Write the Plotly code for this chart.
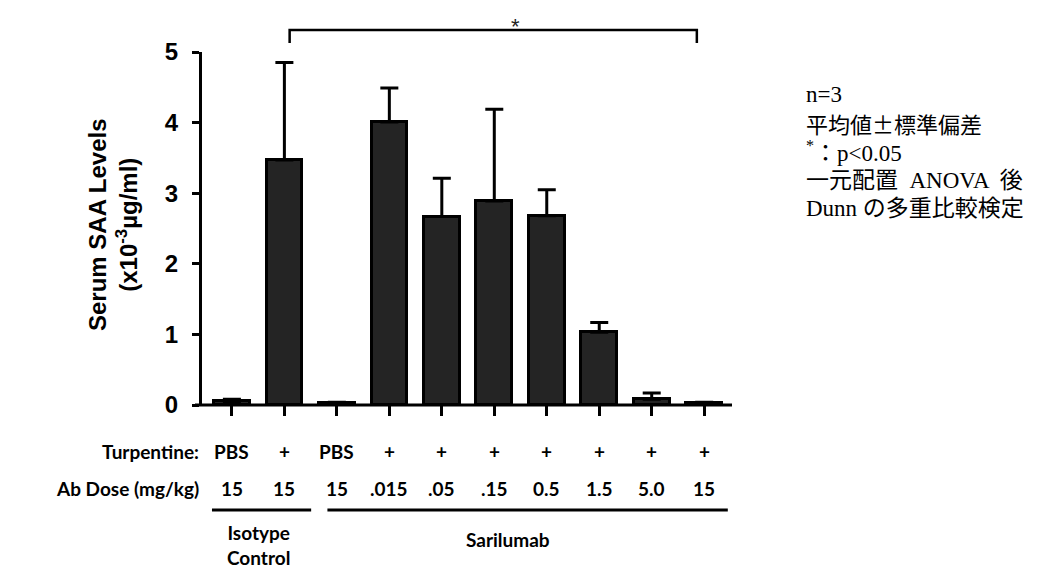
import plotly.graph_objects as go

# ---------------- data ----------------
turpentine = ["PBS", "+", "PBS", "+", "+", "+", "+", "+", "+", "+"]
ab_dose = ["15", "15", "15", ".015", ".05", ".15", "0.5", "1.5", "5.0", "15"]
saa_mean = [0.05, 3.47, 0.03, 4.01, 2.67, 2.89, 2.68, 1.03, 0.08, 0.03]
saa_sd = [0.03, 1.38, 0.01, 0.48, 0.54, 1.30, 0.37, 0.14, 0.09, 0.01]
y_ticks = [0, 1, 2, 3, 4, 5]
group_labels = ["Isotype<br>Control", "Sarilumab"]
group_members = [[0, 1], [2, 3, 4, 5, 6, 7, 8, 9]]
row_titles = ["Turpentine:", "Ab Dose (mg/kg)"]
notes = ["n=3", "平均値±標準偏差", "<sup>*</sup>：p&lt;0.05",
         "一元配置  ANOVA  後", "Dunn の多重比較検定"]
sig_pair = [1, 9]
sig_label = "*"

# ---------------- layout geometry ----------------
OFF = 8                      # default page (body) margin of the html page
W, H = 1039, 575
PLOT_LEFT, PLOT_TOP = 202, 52  # on-screen position of the plot area
PW, PH = 530, 353
L, T = PLOT_LEFT - OFF, PLOT_TOP - OFF
R, B = W - L - PW, H - T - PH
X_MIN, X_MAX = -0.57, 9.53

def px_x(sx):
    return (sx - PLOT_LEFT) / PW

def px_y(sy):
    return (PLOT_TOP + PH - sy) / PH

def data_x(i):
    return (i - X_MIN) / (X_MAX - X_MIN)

UNIT = 1.0 / (X_MAX - X_MIN)
xpos = list(range(len(saa_mean)))

fig = go.Figure()
fig.add_trace(go.Bar(
    x=xpos, y=saa_mean, width=0.68,
    marker=dict(color="#242424", line=dict(color="black", width=3)),
    error_y=dict(type="data", array=saa_sd, arrayminus=[0] * len(saa_sd),
                 symmetric=False, color="black", thickness=3, width=9),
    showlegend=False,
))

bold_sans = dict(family="Liberation Sans, Arial", size=24, color="black", weight=700)
label_font = dict(family="Lato, Carlito, Calibri, sans-serif", size=19, color="black", weight=700)
note_font = dict(family="Liberation Serif, Noto Sans CJK JP", size=23, color="black")
note_font_cjk = dict(family="Noto Sans CJK JP", size=22, color="black")

fig.update_layout(
    width=W, height=H,
    margin=dict(l=L, r=R, t=T, b=B, pad=0),
    plot_bgcolor="white", paper_bgcolor="white",
    bargap=0,
    xaxis=dict(range=[X_MIN, X_MAX], tickvals=xpos, showticklabels=False,
               ticks="outside", ticklen=10, tickwidth=3, tickcolor="black",
               showline=False, showgrid=False, zeroline=False, fixedrange=True),
    yaxis=dict(range=[0, 5], tickvals=y_ticks, ticks="outside", ticklen=7,
               tickwidth=3, tickcolor="black", showline=True, linewidth=3,
               linecolor="black", showgrid=False, zeroline=False,
               tickfont=bold_sans, ticklabelstandoff=9, fixedrange=True),
)

shapes = []
# x-axis baseline (extends slightly left of the y-axis)
shapes.append(dict(type="line", xref="paper", yref="paper", x0=px_x(195), x1=1.0,
                   y0=0, y1=0, line=dict(color="black", width=3)))

# significance bracket
bx0 = data_x(sig_pair[0]) + 0.1 * UNIT
bx1 = data_x(sig_pair[1]) - 0.14 * UNIT
by_top, by_end = px_y(30), px_y(43)
shapes.append(dict(type="path", xref="paper", yref="paper",
                   path=f"M {bx0} {by_end} L {bx0} {by_top} L {bx1} {by_top} L {bx1} {by_end}",
                   line=dict(color="black", width=2.5)))

# group underlines
pad_l = [0.38, 0.18]
pad_r = [0.51, 0.45]
for gi, members in enumerate(group_members):
    x0 = data_x(members[0]) - pad_l[gi] * UNIT
    x1 = data_x(members[-1]) + pad_r[gi] * UNIT
    shapes.append(dict(type="line", xref="paper", yref="paper", x0=x0, x1=x1,
                       y0=px_y(510), y1=px_y(510), line=dict(color="black", width=3)))
fig.update_layout(shapes=shapes)

ann = []
# star above bracket
ann.append(dict(text=sig_label, xref="paper", yref="paper",
                x=data_x(5.4), y=px_y(26), showarrow=False,
                xanchor="center", yanchor="middle",
                font=dict(family="Liberation Sans, Arial", size=22, color="#222")))

# y-axis title
ann.append(dict(text="Serum SAA Levels<br>(x10<sup>-3</sup>µg/ml)", xref="paper", yref="paper",
                x=px_x(113), y=px_y(225), textangle=-90, showarrow=False,
                xanchor="center", yanchor="middle",
                font=dict(family="Liberation Sans, Arial", size=24, color="black", weight=700)))

# row labels beneath the axis
row_y = [451, 488]
for r, rows in enumerate([turpentine, ab_dose]):
    ann.append(dict(text=row_titles[r], xref="paper", yref="paper",
                    x=px_x(201), y=px_y(row_y[r]), xanchor="right", yanchor="middle",
                    showarrow=False, font=label_font))
    for i, t in enumerate(rows):
        ann.append(dict(text=t, xref="x", yref="paper", x=xpos[i], y=px_y(row_y[r]),
                        xanchor="center", yanchor="middle", showarrow=False, font=label_font))

# group labels
ann.append(dict(text=group_labels[0], xref="x", yref="paper",
                x=sum(group_members[0]) / len(group_members[0]), y=px_y(545),
                xanchor="center", yanchor="middle", showarrow=False, font=label_font))
ann.append(dict(text=group_labels[1], xref="paper", yref="paper",
                x=px_x(508), y=px_y(539), xanchor="center", yanchor="middle",
                showarrow=False, font=label_font))

# notes on the right
for k, line in enumerate(notes):
    f = note_font_cjk if k == 1 else note_font
    ann.append(dict(text=line, xref="paper", yref="paper", x=px_x(804),
                    y=px_y(94 + 28.7 * k), xanchor="left", yanchor="middle",
                    showarrow=False, font=f))

fig.update_layout(annotations=ann)
fig.write_html("out.html")
